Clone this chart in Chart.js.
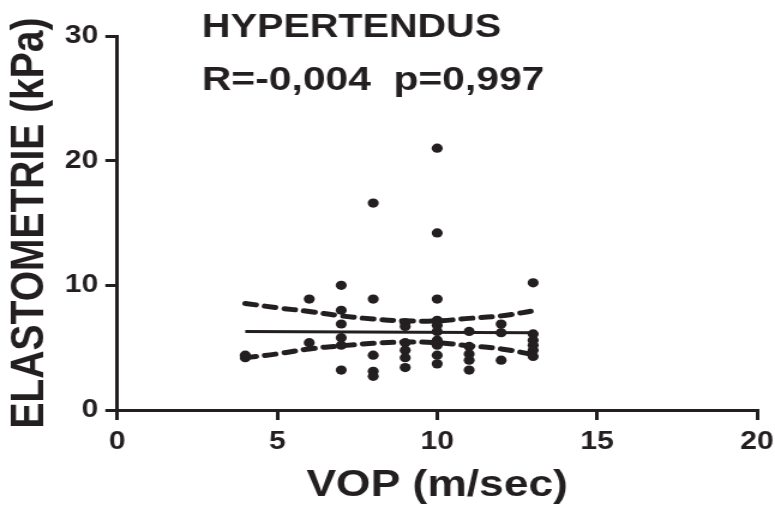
<!DOCTYPE html>
<html>
<head>
<meta charset="utf-8">
<script src="https://cdn.jsdelivr.net/npm/chart.js@4/dist/chart.umd.min.js"></script>
<style>
  html, body { margin: 0; padding: 0; background: #fff; }
  /* the original figure is stretched ~1.2x horizontally, so the canvas is too */
  #graf { display: block; width: 775px; height: 508px; }
</style>
</head>
<body>
<canvas id="graf" width="646" height="508" style="width:775px;height:508px"></canvas>
<script>
// --- données ---
const vopX = [
  4, 4,
  6, 6,
  7, 7, 7, 7, 7, 7,
  8, 8, 8, 8, 8,
  9, 9, 9, 9, 9, 9,
  10, 10, 10, 10, 10, 10, 10, 10, 10, 10,
  11, 11, 11, 11, 11,
  12, 12, 12,
  13, 13, 13, 13, 13, 13
];
const elastoY = [
  4.4, 4.2,
  8.9, 5.4,
  10.0, 8.0, 6.9, 5.8, 5.2, 3.2,
  16.6, 8.9, 4.4, 3.1, 2.7,
  7.0, 6.7, 5.4, 4.8, 4.2, 3.4,
  21.0, 14.2, 8.9, 7.2, 6.8, 6.3, 5.6, 5.2, 4.4, 3.7,
  6.3, 5.1, 4.5, 4.0, 3.2,
  6.9, 6.2, 4.0,
  10.2, 6.1, 5.6, 5.2, 4.8, 4.3
];

// droite de régression
const droiteX = [4, 13];
const droiteY = [6.3, 6.2];

// bandes de confiance 95 %
const bandeX = [4, 5, 6, 7, 8, 9, 10, 11, 12, 13];
const bandeHaut = [8.55, 8.2, 7.9, 7.55, 7.3, 7.15, 7.15, 7.35, 7.55, 7.95];
const bandeBas = [4.2, 4.5, 4.9, 5.15, 5.35, 5.45, 5.4, 5.15, 4.9, 4.45];

const ticksX = [0, 5, 10, 15, 20];
const ticksY = [0, 10, 20, 30];

const titre = 'HYPERTENDUS';
const stats = 'R=-0,004  p=0,997';

const encre = '#231f20';
const police = 'Arial, "Liberation Sans", sans-serif';

const toPts = (xs, ys) => xs.map((x, i) => ({ x, y: ys[i] }));

// titre + stats dessinés au-dessus du graphe
const textesPlugin = {
  id: 'textes',
  afterDraw(chart) {
    const c = chart.ctx;
    c.save();
    c.fillStyle = encre;
    c.textAlign = 'center';
    c.textBaseline = 'alphabetic';
    c.font = `bold 33px ${police}`;
    c.fillText(titre, 293, 37);
    c.font = `bold 34px ${police}`;
    c.fillText(stats, 311, 90);
    c.restore();
  }
};

const bandeStyle = {
  showLine: true,
  pointRadius: 0,
  borderColor: encre,
  borderWidth: 5,
  borderDash: [9, 7.5],
  borderCapStyle: 'round',
  tension: 0.4,
  fill: false
};

const axeCommun = {
  grid: {
    display: true,
    drawOnChartArea: false,
    drawTicks: true,
    tickLength: 10,
    tickWidth: 3,
    tickColor: encre,
    color: encre,
    lineWidth: 3
  },
  border: { display: true, width: 3, color: encre }
};

new Chart(document.getElementById('graf'), {
  type: 'scatter',
  data: {
    datasets: [
      { data: toPts(bandeX, bandeHaut), ...bandeStyle },
      { data: toPts(bandeX, bandeBas), ...bandeStyle },
      {
        data: toPts(droiteX, droiteY),
        showLine: true, pointRadius: 0,
        borderColor: encre, borderWidth: 3
      },
      {
        data: toPts(vopX, elastoY),
        pointRadius: 4.6,
        pointBackgroundColor: encre,
        pointBorderWidth: 0,
        showLine: false
      }
    ]
  },
  options: {
    responsive: false,
    animation: false,
    devicePixelRatio: 1,
    layout: { padding: { top: 36, right: 15, bottom: 0, left: 0 } },
    plugins: { legend: { display: false }, tooltip: { enabled: false } },
    scales: {
      x: {
        type: 'linear', min: 0, max: 20,
        afterBuildTicks: s => { s.ticks = ticksX.map(v => ({ value: v })); },
        // padding 1 keeps the right margin small; tall lineHeight pushes labels down
        ticks: { color: encre, padding: 1, font: { family: police, size: 25, weight: 'bold', lineHeight: 1.68 } },
        title: {
          display: true, text: 'VOP (m/sec)', color: encre,
          font: { family: police, size: 37, weight: 'bold', lineHeight: 1 },
          padding: { top: 3, bottom: 4 }
        },
        ...axeCommun
      },
      y: {
        type: 'linear', min: 0, max: 30,
        afterBuildTicks: s => { s.ticks = ticksY.map(v => ({ value: v })); },
        ticks: { color: encre, padding: 6, font: { family: police, size: 25, weight: 'bold' } },
        title: {
          display: true, text: 'ELASTOMETRIE (kPa)', color: encre,
          font: { family: police, size: 39, weight: 'bold', lineHeight: 1 },
          padding: { top: 6, bottom: 3 }
        },
        ...axeCommun
      }
    }
  },
  plugins: [textesPlugin]
});
</script>
</body>
</html>
